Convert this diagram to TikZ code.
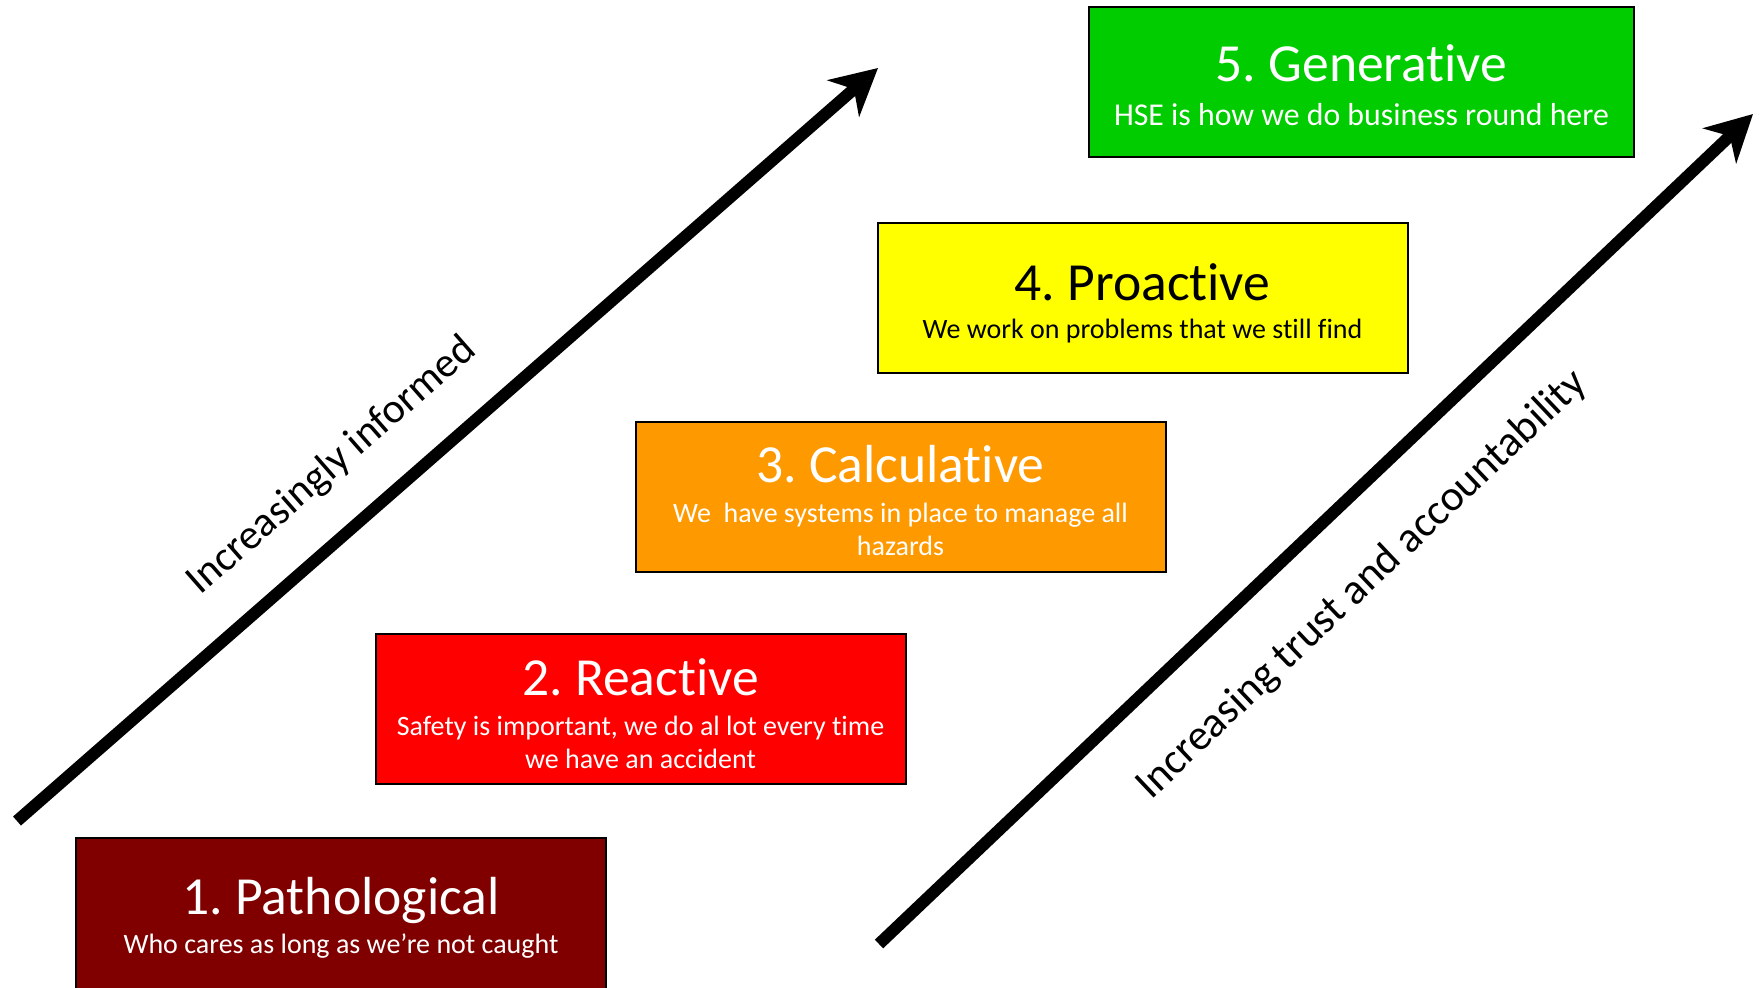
\documentclass[tikz,border=0pt]{standalone}
\usepackage{fontspec}
\setmainfont{Carlito}[Ligatures=NoCommon]
\usetikzlibrary{arrows.meta}
\definecolor{cpath}{RGB}{128,0,0}
\definecolor{creac}{RGB}{255,0,0}
\definecolor{ccalc}{RGB}{255,153,0}
\definecolor{cproa}{RGB}{255,255,0}
\definecolor{cgene}{RGB}{0,204,0}
\frenchspacing
\begin{document}
\begin{tikzpicture}[x=0.5pt,y=-0.5pt,
  stage/.style={draw=black, line width=1pt, anchor=north west, inner sep=0pt, outer sep=0pt,
                minimum width=265pt, minimum height=75pt},
  ttl/.style={anchor=base, inner sep=0pt, font=\fontsize{26.8}{31}\selectfont},
  sub/.style={anchor=base, inner sep=0pt, font=\fontsize{14}{17}\selectfont},
  axis/.style={line width=6pt, -{Stealth[length=23pt,width=24pt,inset=7pt]}},
  axislabel/.style={inner sep=0pt}]
\useasboundingbox (0,0) rectangle (1764,987);
\fill[white] (0,0) rectangle (1764,987);

% boxes
\node[stage, fill=cpath, minimum height=90pt] (b1) at (76,838) {};
\node[stage, fill=creac] (b2) at (376,634) {};
\node[stage, fill=ccalc] (b3) at (636,422) {};
\node[stage, fill=cproa] (b4) at (878,223) {};
\node[stage, fill=cgene, minimum width=272.5pt] (b5) at (1089,7) {};

% texts
\node[ttl, text=white] (t1) at (341,914) {1. Pathological};
\node[sub, text=white] (s1) at (341,953) {Who cares as long as we’re not caught};

\node[ttl, text=white] (t2) at (640.5,695) {2. Reactive};
\node[sub, text=white] (s2a) at (640.5,735) {Safety is important, we do al lot every time};
\node[sub, text=white] (s2b) at (640.5,768) {we have an accident};

\node[ttl, text=white] (t3) at (900.5,482) {3. Calculative};
\node[sub, text=white] (s3a) at (900.5,522) {We\ \ have systems in place to manage all};
\node[sub, text=white] (s3b) at (900.5,555) {hazards};

\node[ttl, text=black] (t4) at (1142.5,300) {4. Proactive};
\node[sub, text=black] (s4) at (1142.5,338) {We work on problems that we still find};

\node[ttl, text=white] (t5) at (1361.5,81) {5. Generative};
\node[sub, text=white, font=\fontsize{15.9}{19}\selectfont] (s5) at (1361.5,125) {HSE is how we do business round here};

% arrows
\coordinate (la1) at (17,821);
\coordinate (la2) at (878,68);
\coordinate (ra1) at (879,944);
\coordinate (ra2) at (1753,114);
\draw[axis] (la1) -- (la2);
\draw[axis] (ra1) -- (ra2);

\node[axislabel, rotate=41.2, font=\fontsize{21}{25}\selectfont] (ll) at (332,466) {Increasingly informed};
\node[axislabel, rotate=43.5, font=\fontsize{21.6}{26}\selectfont] (rl) at (1362,585) {Increasing trust and accountability};
\end{tikzpicture}
\end{document}
